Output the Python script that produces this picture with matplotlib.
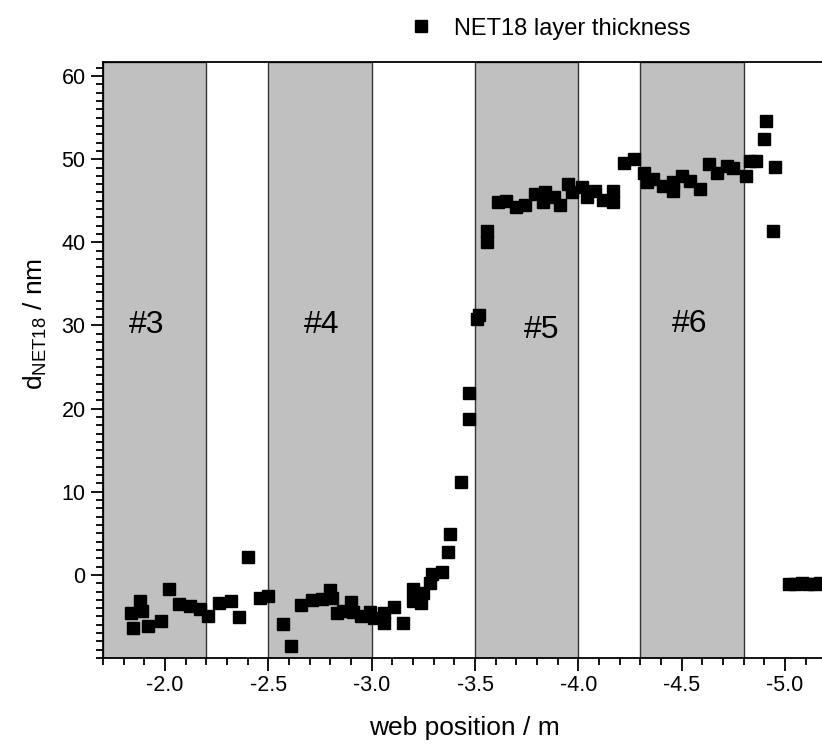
import matplotlib

matplotlib.use("Agg")
import matplotlib.pyplot as plt
from matplotlib.ticker import FixedLocator, MultipleLocator

plt.rcParams["font.family"] = ["Liberation Sans", "DejaVu Sans"]

# web position (m) and NET18 layer thickness (nm)
position = [
    -1.835, -1.846, -1.88, -1.89, -1.92, -1.98, -2.02, -2.07, -2.12, -2.17,
    -2.21, -2.26, -2.32, -2.36, -2.40, -2.46, -2.50, -2.57, -2.61, -2.66,
    -2.71, -2.76, -2.80, -2.81, -2.83, -2.86, -2.90, -2.91, -2.95, -2.99,
    -3.01, -3.06, -3.06, -3.11, -3.15, -3.20, -3.20, -3.24, -3.25, -3.28,
    -3.29, -3.34, -3.37, -3.38, -3.43, -3.47, -3.47, -3.51, -3.52, -3.56,
    -3.56, -3.61, -3.65, -3.70, -3.74, -3.79, -3.83, -3.84, -3.88, -3.91,
    -3.95, -3.97, -4.02, -4.04, -4.08, -4.12, -4.17, -4.17, -4.22, -4.27,
    -4.32, -4.33, -4.36, -4.41, -4.46, -4.46, -4.50, -4.54, -4.59, -4.63,
    -4.67, -4.72, -4.75, -4.81, -4.83, -4.86, -4.90, -4.91, -4.95, -4.94,
    -5.02, -5.05, -5.08, -5.11, -5.14, -5.17, -5.20,
]
thickness = [
    -4.6, -6.4, -3.2, -4.3, -6.1, -5.6, -1.7, -3.5, -3.8, -4.1,
    -5.0, -3.4, -3.2, -5.1, 2.1, -2.8, -2.5, -5.9, -8.5, -3.6,
    -3.0, -2.9, -1.8, -2.8, -4.6, -4.3, -3.3, -4.5, -5.0, -4.5,
    -5.2, -5.8, -4.6, -3.9, -5.8, -1.7, -3.2, -3.4, -2.2, -1.0,
    0.1, 0.3, 2.7, 4.9, 11.2, 18.7, 21.9, 30.8, 31.2, 40.1,
    41.4, 44.8, 45.0, 44.2, 44.5, 45.8, 44.8, 46.0, 45.4, 44.5,
    47.0, 46.0, 46.6, 45.4, 46.2, 45.1, 44.8, 46.2, 49.6, 50.0,
    48.4, 47.2, 47.6, 46.8, 46.2, 47.2, 48.0, 47.4, 46.4, 49.4,
    48.4, 49.2, 49.0, 48.0, 49.8, 49.8, 52.4, 54.6, 49.1, 41.4,
    -1.1, -1.1, -1.0, -1.1, -1.1, -1.0, -1.1,
]

# shaded sample sections
section_names = ["#3", "#4", "#5", "#6"]
section_start = [-1.7, -2.5, -3.5, -4.3]
section_end = [-2.2, -3.0, -4.0, -4.8]
label_x = [-1.91, -2.76, -3.82, -4.54]
label_y = [30.0, 30.0, 29.4, 30.2]

y_ticks = [0, 10, 20, 30, 40, 50, 60]

fig = plt.figure(figsize=(8.22, 7.47), dpi=100)
ax = fig.add_axes([0.1253, 0.1191, 0.880, 0.798])

for name, x0, x1, lx, ly in zip(section_names, section_start, section_end, label_x, label_y):
    ax.axvspan(x0, x1, facecolor="#c0c0c0", edgecolor="#333333", linewidth=1.0, zorder=1)
    ax.text(lx, ly, name, fontsize=23, ha="center", va="center", zorder=3)

ax.plot(position, thickness, linestyle="none", marker="s", markersize=8.5,
        color="black", label="NET18 layer thickness", zorder=4)

ax.set_xlim(-1.7, -5.2)
ax.set_ylim(-10, 61.7)
ax.xaxis.set_major_locator(MultipleLocator(0.5))
ax.xaxis.set_minor_locator(MultipleLocator(0.1))
ax.yaxis.set_major_locator(FixedLocator(y_ticks))
ax.yaxis.set_minor_locator(MultipleLocator(1))
ax.xaxis.set_major_formatter(plt.FuncFormatter(lambda v, p: f"{v:.1f}"))
ax.yaxis.set_major_formatter(plt.FuncFormatter(lambda v, p: f"{v:.0f}"))
ax.tick_params(axis="both", which="major", direction="out", length=9, width=1.3, labelsize=15.5)
ax.tick_params(axis="both", which="minor", direction="out", length=5, width=1.3)
ax.tick_params(top=False, right=False)
for side in ["left", "bottom", "top"]:
    ax.spines[side].set_linewidth(1.3)
ax.spines["right"].set_visible(False)

ax.set_xlabel("web position / m", fontsize=19, labelpad=14)
ax.set_ylabel(r"d$_{\mathregular{NET18}}$ / nm", fontsize=19)
ax.yaxis.set_label_coords(-0.094, 0.56)
ax.yaxis.label.set_va("center")

ax.legend(loc="upper left", bbox_to_anchor=(0.378, 1.11), frameon=False, fontsize=17,
          handletextpad=0.4, markerscale=1.0)

fig.savefig("out.png", dpi=100)
